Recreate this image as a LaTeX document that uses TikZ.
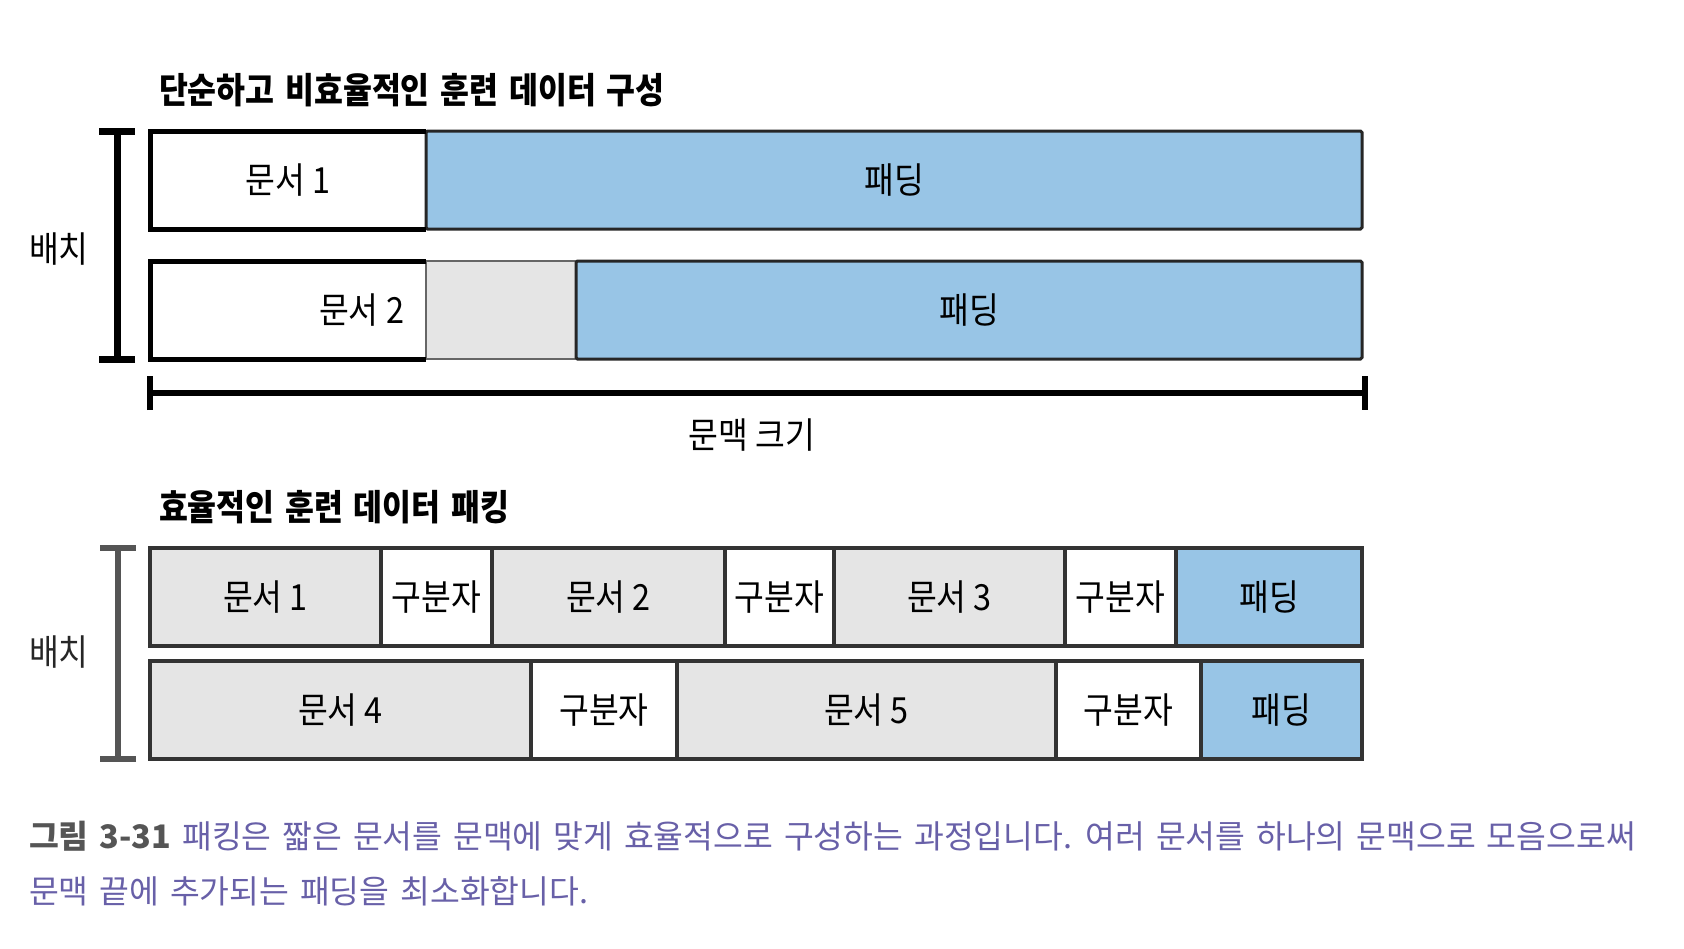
\documentclass[tikz,border=0pt]{standalone}
\usepackage{fontspec}
\usepackage{xcolor}
\usetikzlibrary{positioning}
\usetikzlibrary{arrows.meta}

\newfontfamily\krfont[FakeStretch=0.9]{Noto Sans CJK KR}
\newfontfamily\krtitle[FakeStretch=0.88,WordSpace=1.5]{Noto Sans CJK KR}
\newfontfamily\krcap[WordSpace=1.5]{Noto Sans CJK KR}

\definecolor{padblue}{RGB}{152,197,230}
\definecolor{docgray}{RGB}{229,229,229}
\definecolor{capgray}{RGB}{85,85,85}
\definecolor{capviolet}{RGB}{104,96,168}

\begin{document}
\begin{tikzpicture}[x=1pt, y=-1pt,
  every node/.style={inner sep=0pt, outer sep=0pt},
  lbl/.style={font=\krfont\fontsize{36}{42}\selectfont},
  titlelbl/.style={anchor=west, font=\krtitle\bfseries\fontsize{35.7}{42}\selectfont},
  topcell/.style={lbl, minimum height=98pt, anchor=north west},
  toppad/.style={topcell, fill=padblue, draw=black!85, line width=3pt, rounded corners=1.5pt},
  docline/.style={black, line width=5pt},
  botcell/.style={lbl, minimum height=98pt, draw=black!80, line width=4pt},
  botdoc/.style={botcell, fill=docgray},
  botsep/.style={botcell, fill=white},
  botpad/.style={botcell, fill=padblue},
  bracket/.style={line width=7pt, black, {Bar[width=36pt]}-{Bar[width=36pt]}}
]
\useasboundingbox (0,0) rectangle (1684,948);

% top: simple, inefficient
\node[titlelbl] (ttitle) at (159,90) {단순하고 비효율적인 훈련 데이터 구성};

\node[topcell, minimum width=276pt] (t1doc) at (150,131) {문서 1};
\node[toppad, minimum width=936pt, right=0pt of t1doc] (t1pad) {패딩};

\node[topcell, minimum width=276pt] (t2doc) at (150,261) {};
\node[topcell, minimum width=150pt, fill=docgray, draw=black!60, line width=2pt, right=0pt of t2doc] (t2gap) {};
\node[toppad, minimum width=786pt, right=0pt of t2gap] (t2pad) {패딩};
\node[lbl, anchor=east] (t2lbl) at ([xshift=-22pt]t2doc.east) {문서 2};

\draw[docline] (t1doc.north east) -- (t1doc.north west) -- (t1doc.south west) -- (t1doc.south east);
\draw[docline] (t2doc.north east) -- (t2doc.north west) -- (t2doc.south west) -- (t2doc.south east);

\coordinate (tbrk) at (117,0);
\draw[bracket] ([yshift=3.5pt]t1doc.north -| tbrk) -- ([yshift=-3.5pt]t2doc.south -| tbrk);
\node[lbl] (tbatch) at (59,249) {배치};

\coordinate (ctx) at (0,393);
\draw[bracket, line width=6pt, {Bar[width=34pt]}-{Bar[width=34pt]}] ([xshift=-3pt]t2doc.west |- ctx) -- ([xshift=6pt]t2pad.east |- ctx);
\node[lbl] (ctxlbl) at (752,435) {문맥 크기};

% bottom: efficient packing
\node[titlelbl] (btitle) at (159,507) {효율적인 훈련 데이터 패킹};

\node[botdoc, minimum width=231pt, anchor=north west] (b1d1) at (150,548) {문서 1};
\node[botsep, minimum width=111pt, right=0pt of b1d1] (b1s1) {구분자};
\node[botdoc, minimum width=233pt, right=0pt of b1s1] (b1d2) {문서 2};
\node[botsep, minimum width=109pt, right=0pt of b1d2] (b1s2) {구분자};
\node[botdoc, minimum width=231pt, right=0pt of b1s2] (b1d3) {문서 3};
\node[botsep, minimum width=111pt, right=0pt of b1d3] (b1s3) {구분자};
\node[botpad, minimum width=186pt, right=0pt of b1s3] (b1pad) {패딩};

\node[botdoc, minimum width=381pt, anchor=north west] (b2d4) at (150,661) {문서 4};
\node[botsep, minimum width=146pt, right=0pt of b2d4] (b2s1) {구분자};
\node[botdoc, minimum width=379pt, right=0pt of b2s1] (b2d5) {문서 5};
\node[botsep, minimum width=145pt, right=0pt of b2d5] (b2s2) {구분자};
\node[botpad, minimum width=161pt, right=0pt of b2s2] (b2pad) {패딩};

\coordinate (bbrk) at (118,0);
\draw[bracket, line width=6pt, capgray] ([yshift=3pt]b1d1.north -| bbrk) -- ([yshift=-3pt]b2d4.south -| bbrk);
\node[lbl, text=black!85] (bbatch) at (59,652) {배치};

% caption
\node[anchor=west, font=\krcap\fontsize{32.4}{38}\selectfont] (cap1) at (29,836)
  {{\bfseries\color{capgray}그림 3-31} \color{capviolet}패킹은 짧은 문서를 문맥에 맞게 효율적으로 구성하는 과정입니다. 여러 문서를 하나의 문맥으로 모음으로써};
\node[anchor=west, font=\krcap\fontsize{32.4}{38}\selectfont, text=capviolet] (cap2) at (29,891)
  {문맥 끝에 추가되는 패딩을 최소화합니다.};

\end{tikzpicture}
\end{document}
